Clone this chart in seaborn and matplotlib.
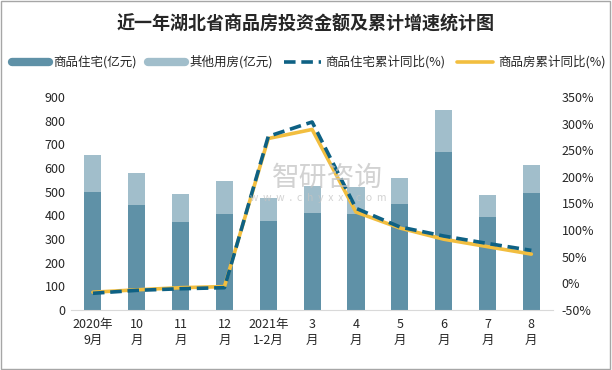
import numpy as np
import pandas as pd
import matplotlib
matplotlib.use('Agg')
import matplotlib.pyplot as plt
from matplotlib.patches import Rectangle
from matplotlib.lines import Line2D
import seaborn as sns

sns.set_style('white')
plt.rcParams['font.family'] = ['Noto Sans CJK SC', 'DejaVu Sans']
plt.rcParams['axes.unicode_minus'] = False

#%% Data
months = ['2020年\n9月', '10\n月', '11\n月', '12\n月', '2021年\n1-2月', '3\n月',
          '4\n月', '5\n月', '6\n月', '7\n月', '8\n月']
residential = [500, 444, 372, 406, 376, 410, 406, 448, 667, 393, 494]
other = [155, 135, 118, 139, 97, 114, 114, 110, 178, 93, 119]
resid_yoy = [-18.5, -13, -10, -8, 276, 303, 141, 106, 89, 75, 62]
total_yoy = [-16.5, -12, -8, -6, 272, 289, 134, 104, 83, 69, 55]

df = pd.DataFrame({'month': months, 'residential': residential, 'other': other})
df['total'] = df.residential + df.other

c_res = '#5F91A7'
c_oth = '#A1BECB'
c_dash = '#0E6184'
c_yel = '#F2BE3F'

fig = plt.figure(figsize=(6.12, 3.7), dpi=100)
ax = fig.add_axes([0.116, 0.162, 0.788, 0.576])

#%% Stacked bars: total first, residential on top
sns.barplot(data=df, x='month', y='total', color=c_oth, width=0.39, saturation=1,
            linewidth=0, ax=ax)
sns.barplot(data=df, x='month', y='residential', color=c_res, width=0.39, saturation=1,
            linewidth=0, ax=ax)
ax.set_xlim(-0.5, len(months) - 0.5)
ax.set_ylim(0, 900)
ax.set_yticks(range(0, 901, 100))
ax.set_xlabel('')
ax.set_ylabel('')
ax.tick_params(axis='both', labelsize=9, length=0, pad=4)
ax.tick_params(axis='x', pad=6)
ax.set_xticks(range(len(months)))
ax.set_xticklabels(months, fontsize=9, linespacing=1.25)
for s in ['top', 'right', 'left']:
    ax.spines[s].set_visible(False)
ax.spines['bottom'].set_color('#D9D9D9')

#%% Lines on right axis
ax2 = ax.twinx()
pos = np.arange(len(months))
sns.lineplot(x=pos, y=total_yoy, color=c_yel, linewidth=2.6, ax=ax2)
sns.lineplot(x=pos, y=resid_yoy, color=c_dash, linewidth=2.6, ax=ax2)
ax2.lines[1].set_dashes([3.2, 1.6])
ax2.set_ylim(-50, 350)
ax2.set_yticks(range(-50, 351, 50))
ax2.set_yticklabels([f'{v}%' for v in range(-50, 351, 50)])
ax2.tick_params(axis='y', labelsize=9, length=0, pad=6)
for s in ax2.spines.values():
    s.set_visible(False)

#%% Watermark
fig.text(0.535, 0.518, '智研咨询', fontsize=20, color='#C4C4C4', alpha=0.75, ha='center', va='center')
fig.text(0.52, 0.465, 'w  w  w  .  c  h  y  x  x  .  c  o  m', fontsize=7.5, color='#C4C4C4',
         alpha=0.75, ha='center', va='center')

#%% Title and legend
fig.text(0.5, 0.935, '近一年湖北省商品房投资金额及累计增速统计图', fontsize=13, weight='bold',
         ha='center', va='center')
handles = [Line2D([], [], color=c_res, linewidth=6),
           Line2D([], [], color=c_oth, linewidth=6),
           Line2D([], [], color=c_dash, linewidth=2.6, dashes=[3.2, 1.6]),
           Line2D([], [], color=c_yel, linewidth=2.6)]
labels = ['商品住宅(亿元)', '其他用房(亿元)', '商品住宅累计同比(%)', '商品房累计同比(%)']
fig.legend(handles, labels, loc='center', bbox_to_anchor=(0.505, 0.832), ncol=4, frameon=False,
           fontsize=9, handlelength=2.9, columnspacing=0.9, handletextpad=0.4)

fig.patches.append(Rectangle((0.002, 0.003), 0.995, 0.994, transform=fig.transFigure,
                             fill=False, edgecolor='#A6A6A6', linewidth=1))

plt.savefig('out.png', dpi=100)
